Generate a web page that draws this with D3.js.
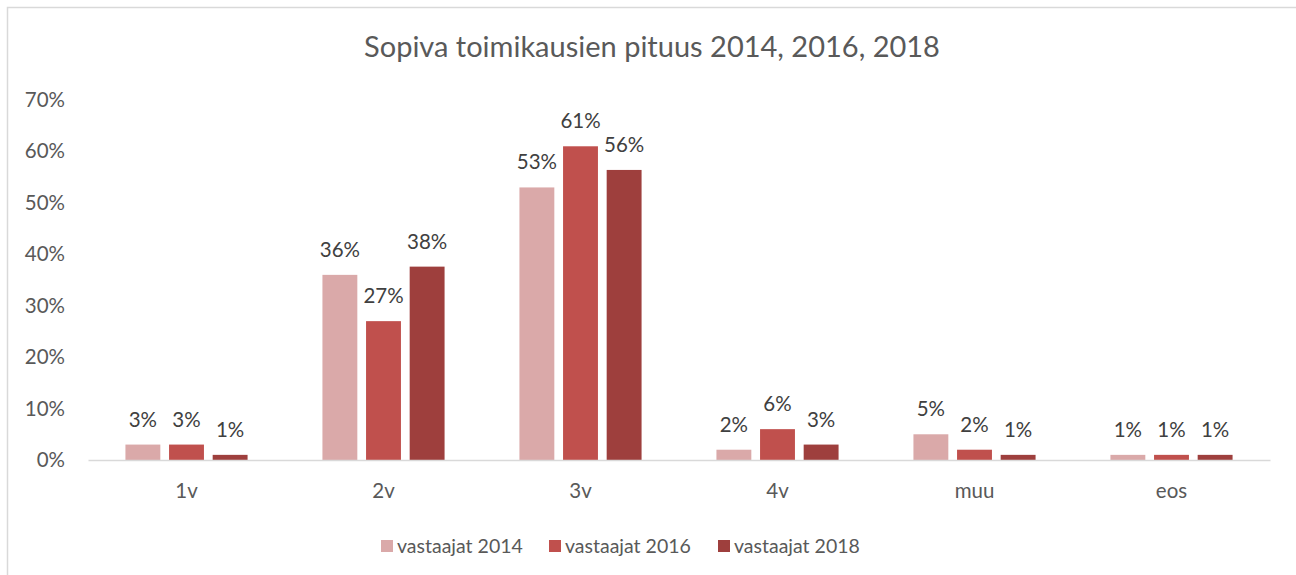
<!DOCTYPE html>
<html>
<head>
<meta charset="utf-8">
<script src="https://cdn.jsdelivr.net/npm/d3@7"></script>
<style>
  html, body { margin: 0; padding: 0; background: #fff; }
  svg { display: block; font-family: Lato, "Open Sans", sans-serif; }
</style>
</head>
<body>
<svg id="chart" width="1296" height="575"></svg>
<script>
const title = "Sopiva toimikausien pituus 2014, 2016, 2018";
const categories = ["1v", "2v", "3v", "4v", "muu", "eos"];
const seriesNames = ["vastaajat 2014", "vastaajat 2016", "vastaajat 2018"];
const values2014 = [3, 36, 53, 2, 5, 1];
const values2016 = [3, 27, 61, 6, 2, 1];
const values2018 = [1, 37.6, 56.4, 3, 1, 1];
const yTicks = [0, 10, 20, 30, 40, 50, 60, 70];
const colors = ["#DAA9A9", "#C0504D", "#9E3F3D"];

const seriesValues = [values2014, values2016, values2018];
const svg = d3.select("#chart");

// chart border
svg.append("rect")
  .attr("x", 7.5).attr("y", 7.5)
  .attr("width", 1300).attr("height", 600)
  .attr("fill", "none").attr("stroke", "#D9D9D9").attr("stroke-width", 1.5);

const plotLeft = 88, plotRight = 1270, plotTop = 100, plotBottom = 460;

const x0 = d3.scaleBand().domain(categories).range([plotLeft, plotRight]).padding(0);
const step = x0.bandwidth();
const x1 = d3.scaleBand().domain(seriesNames)
  .range([step * 0.19, step * 0.81]).paddingInner(0.2).paddingOuter(0);
const y = d3.scaleLinear().domain([0, 70]).range([plotBottom, plotTop]);

// title
svg.append("text")
  .attr("x", 652).attr("y", 57)
  .attr("text-anchor", "middle")
  .attr("font-size", 29)
  .attr("fill", "#595959")
  .text(title);

// y axis labels
const yAxis = d3.axisLeft(y).tickValues(yTicks).tickSize(0).tickPadding(0)
  .tickFormat(d => d + "%");
const yg = svg.append("g").attr("transform", `translate(${65},0)`).call(yAxis);
yg.select(".domain").remove();
yg.selectAll("text").attr("font-size", 20.5).attr("fill", "#595959")
  .attr("font-family", "Lato, 'Open Sans', sans-serif");

// bars
const groups = svg.append("g").selectAll("g")
  .data(categories)
  .join("g")
  .attr("transform", d => `translate(${x0(d)},0)`);

groups.selectAll("rect")
  .data((c, i) => seriesNames.map((s, j) => ({ s, j, v: seriesValues[j][i] })))
  .join("rect")
  .attr("x", d => x1(d.s))
  .attr("width", x1.bandwidth())
  .attr("y", d => y(d.v))
  .attr("height", d => y(0) - y(d.v))
  .attr("fill", d => colors[d.j]);

groups.selectAll("text")
  .data((c, i) => seriesNames.map((s, j) => ({ s, j, v: seriesValues[j][i] })))
  .join("text")
  .attr("x", d => x1(d.s) + x1.bandwidth() / 2)
  .attr("y", d => y(d.v) - 18)
  .attr("text-anchor", "middle")
  .attr("font-size", 20.5)
  .attr("fill", "#404040")
  .text(d => Math.round(d.v) + "%");

// x axis
const xAxis = d3.axisBottom(x0).tickSize(0).tickPadding(0);
const xg = svg.append("g").attr("transform", `translate(0,${plotBottom})`).call(xAxis);
xg.select(".domain").attr("stroke", "#D9D9D9").attr("stroke-width", 1.5);
xg.selectAll("text").attr("font-size", 20.5).attr("fill", "#595959")
  .attr("font-family", "Lato, 'Open Sans', sans-serif")
  .attr("dy", 0).attr("y", 38);

// legend
const legendX = [381, 549, 718];
const lg = svg.append("g").selectAll("g").data(seriesNames).join("g")
  .attr("transform", (d, i) => `translate(${legendX[i]},540)`);
lg.append("rect").attr("width", 12).attr("height", 12).attr("fill", (d, i) => colors[i]);
lg.append("text").attr("x", 16).attr("y", 12.5)
  .attr("font-size", 19.5).attr("fill", "#595959").text(d => d);
</script>
</body>
</html>
